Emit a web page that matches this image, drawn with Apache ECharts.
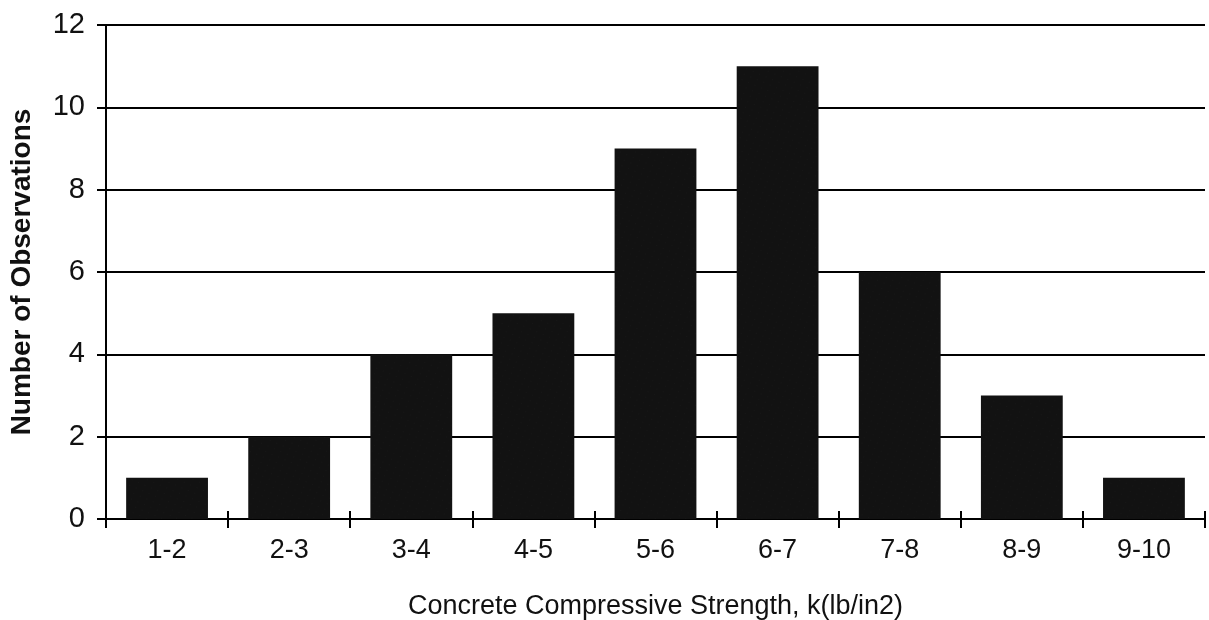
<!DOCTYPE html>
<html>
<head>
<meta charset="utf-8">
<script src="https://cdn.jsdelivr.net/npm/echarts@6/dist/echarts.min.js"></script>
<style>
  html, body { margin: 0; padding: 0; background: #fff; }
  #chart { width: 1209px; height: 620px; }
</style>
</head>
<body>
<div id="chart"></div>
<script>
// strength classes, k(lb/in2)
var categories = ['1-2', '2-3', '3-4', '4-5', '5-6', '6-7', '7-8', '8-9', '9-10'];
// number of observations per class
var counts = [1, 2, 4, 5, 9, 11, 6, 3, 1];
var yTicks = [0, 2, 4, 6, 8, 10, 12];

var chart = echarts.init(document.getElementById('chart'));

var font = 'Liberation Sans';

var option = {
  animation: false,
  backgroundColor: '#fff',
  grid: {
    left: 106,
    right: 4,
    top: 25,
    bottom: 101,
    outerBoundsMode: 'none'
  },
  xAxis: [
    {
      type: 'category',
      data: categories,
      name: 'Concrete Compressive Strength, k(lb/in2)',
      nameLocation: 'middle',
      nameGap: 74,
      nameTextStyle: { fontFamily: font, fontSize: 27, color: '#111' },
      axisLine: { lineStyle: { color: '#000', width: 2 } },
      axisTick: { show: true, length: 9, lineStyle: { color: '#000', width: 2 } },
      axisLabel: { margin: 18, fontFamily: font, fontSize: 27, color: '#111' },
      splitLine: { show: false }
    },
    {
      // same axis again, only for the tick marks that cross above the line
      type: 'category',
      data: categories,
      position: 'bottom',
      axisLine: { show: false },
      axisTick: { show: true, inside: true, length: 8, lineStyle: { color: '#000', width: 2 } },
      axisLabel: { show: false },
      splitLine: { show: false }
    }
  ],
  yAxis: {
    type: 'value',
    min: yTicks[0],
    max: yTicks[yTicks.length - 1],
    interval: 2,
    name: 'Number of Observations',
    nameLocation: 'middle',
    nameGap: 70,
    nameTextStyle: { fontFamily: font, fontSize: 28, fontWeight: 'bold', color: '#111' },
    axisLine: { show: true, lineStyle: { color: '#000', width: 2 } },
    axisTick: { show: true, length: 9, lineStyle: { color: '#000', width: 2 } },
    axisLabel: { margin: 21, fontFamily: font, fontSize: 29, color: '#111' },
    splitLine: { show: true, lineStyle: { color: '#000', width: 2 } }
  },
  series: [
    {
      type: 'bar',
      data: counts,
      barCategoryGap: '33%',
      itemStyle: {
        color: '#121212',
        decal: {
          symbol: 'rect',
          symbolSize: 0.25,
          color: 'rgba(255,255,255,0.35)',
          dashArrayX: [1, 6],
          dashArrayY: [1, 5],
          rotation: 0.4
        }
      }
    }
  ]
};

chart.setOption(option);
</script>
</body>
</html>
